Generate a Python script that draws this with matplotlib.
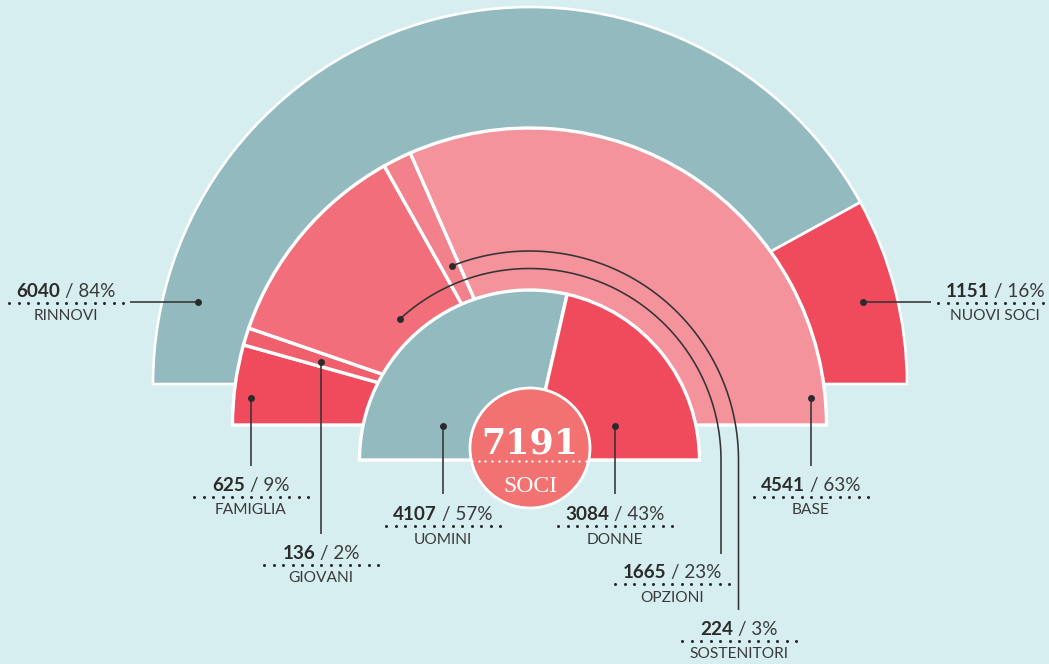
import matplotlib
matplotlib.use('Agg')
import matplotlib.pyplot as plt
from matplotlib.patches import Wedge, Circle
import numpy as np

# ---------------- data ----------------
total = 7191
outer_labels = ['RINNOVI', 'NUOVI SOCI']
outer_values = [6040, 1151]
outer_pct = [84, 16]
middle_labels = ['FAMIGLIA', 'GIOVANI', 'OPZIONI', 'SOSTENITORI', 'BASE']
middle_values = [625, 136, 1665, 224, 4541]
middle_pct = [9, 2, 23, 3, 63]
inner_labels = ['UOMINI', 'DONNE']
inner_values = [4107, 3084]
inner_pct = [57, 43]

# ---------------- style ----------------
W, H = 1049, 664
BG = '#D6EEF0'
TEAL = '#93BBBF'
RED = '#F04B5C'
outer_colors = [TEAL, RED]
middle_colors = [RED, '#EF5F6C', '#F26E7A', '#F3818C', '#F4939C']
inner_colors = [TEAL, RED]
CIRCLE = '#F27272'
DARK = '#2B2B2B'
LINE = '#333333'

fig = plt.figure(figsize=(W / 100, H / 100), dpi=100)
fig.patch.set_facecolor(BG)
ax = fig.add_axes([0, 0, 1, 1])
ax.set_xlim(0, W)
ax.set_ylim(H, 0)   # pixel coordinates, y downward
ax.axis('off')
ax.set_facecolor(BG)


def ring(center, radius, values, colors, z, lw):
    vals = np.asarray(values, dtype=float)
    frac = np.concatenate([[0], np.cumsum(vals) / vals.sum()])
    for i, c in enumerate(colors):
        # with y downward, data angle 180..360 is the visual upper half, left->right
        t1 = 180 + frac[i] * 180
        t2 = 180 + frac[i + 1] * 180
        ax.add_patch(Wedge(center, radius, t1, t2, facecolor=c, edgecolor='white',
                           linewidth=lw, zorder=z, joinstyle='miter'))


ring((530, 384), 377, outer_values, outer_colors, 1, 1.9)
ring((529.5, 425), 297, middle_values, middle_colors, 2, 2.4)
ring((529.5, 460), 170, inner_values, inner_colors, 3, 2.4)

# central circle
ax.add_patch(Circle((530, 448), 60, facecolor=CIRCLE, edgecolor='white', linewidth=2.0, zorder=6))
ax.text(530, 453, f'{total}', fontfamily='DejaVu Serif', fontweight='bold', fontsize=25,
        color='white', ha='center', va='baseline', zorder=7)
ax.plot(np.linspace(472, 586, 18), np.full(18, 461), linestyle='none', marker='o',
        markersize=1.7, color='white', markeredgewidth=0, zorder=7)
ax.text(530, 492, 'SOCI', fontfamily='Liberation Serif', fontsize=17, color='white',
        ha='center', va='baseline', zorder=7)

renderer = fig.canvas.get_renderer()


def label(cx, base, num, pct, name):
    fs = 13.6
    t1 = ax.text(0, base, f'{num}', fontfamily='Lato', fontweight='bold', fontsize=fs,
                 color=DARK, ha='left', va='baseline', zorder=8)
    t2 = ax.text(0, base, f'/ {pct}%', fontfamily='Lato', fontsize=fs,
                 color='#3A3A3A', ha='left', va='baseline', zorder=8)
    w1 = t1.get_window_extent(renderer).width
    w2 = t2.get_window_extent(renderer).width
    gap = 5
    x0 = cx - (w1 + gap + w2) / 2
    t1.set_x(x0)
    t2.set_x(x0 + w1 + gap)
    xs = np.linspace(cx - 57, cx + 57, 13)
    ax.plot(xs, np.full_like(xs, base + 5.5), linestyle='none', marker='o', markersize=2.2,
            markeredgewidth=0, color=DARK, zorder=8)
    ax.text(cx, base + 23.5, name, fontfamily='Lato', fontsize=11.2, color='#3A3A3A',
            ha='center', va='baseline', zorder=8)


def dot(x, y):
    ax.plot([x], [y], marker='o', markersize=5, color=DARK, markeredgewidth=0, zorder=9)


def leader(xs, ys):
    ax.plot(xs, ys, color=LINE, linewidth=1.15, zorder=8, solid_capstyle='butt')


# outer ring labels
leader([198, 130], [302, 302]); dot(198, 302)
label(66, 297, outer_values[0], outer_pct[0], outer_labels[0])
leader([862.5, 931], [302, 302]); dot(862.5, 302)
label(995, 297, outer_values[1], outer_pct[1], outer_labels[1])

# middle ring: straight leaders
leader([250.7, 250.7], [398, 466]); dot(250.7, 398)
label(251, 491, middle_values[0], middle_pct[0], middle_labels[0])
leader([320.7, 320.7], [362, 534]); dot(320.7, 362)
label(321, 559, middle_values[1], middle_pct[1], middle_labels[1])
leader([810.7, 810.7], [398, 466]); dot(810.7, 398)
label(811, 491, middle_values[4], middle_pct[4], middle_labels[4])

# middle ring: curved leaders (arcs about the inner centre, then straight down)
arc_c = (529.5, 460)
for r, a0, yend, cx, base, idx in [(191.5, 227.3, 554, 672, 578, 2),
                                   (209.0, 248.3, 610, 739, 635, 3)]:
    th = np.radians(np.linspace(a0, 360, 200))
    xs = arc_c[0] + r * np.cos(th)
    ys = arc_c[1] + r * np.sin(th)
    xs = np.append(xs, arc_c[0] + r)
    ys = np.append(ys, yend)
    leader(xs, ys)
    dot(xs[0], ys[0])
    label(cx, base, middle_values[idx], middle_pct[idx], middle_labels[idx])

# inner ring labels
leader([443.3, 443.3], [426, 494]); dot(443.3, 426)
label(443, 520, inner_values[0], inner_pct[0], inner_labels[0])
leader([615, 615], [426, 494]); dot(615, 426)
label(615, 520, inner_values[1], inner_pct[1], inner_labels[1])

fig.savefig('out.png', dpi=100, facecolor=BG)
